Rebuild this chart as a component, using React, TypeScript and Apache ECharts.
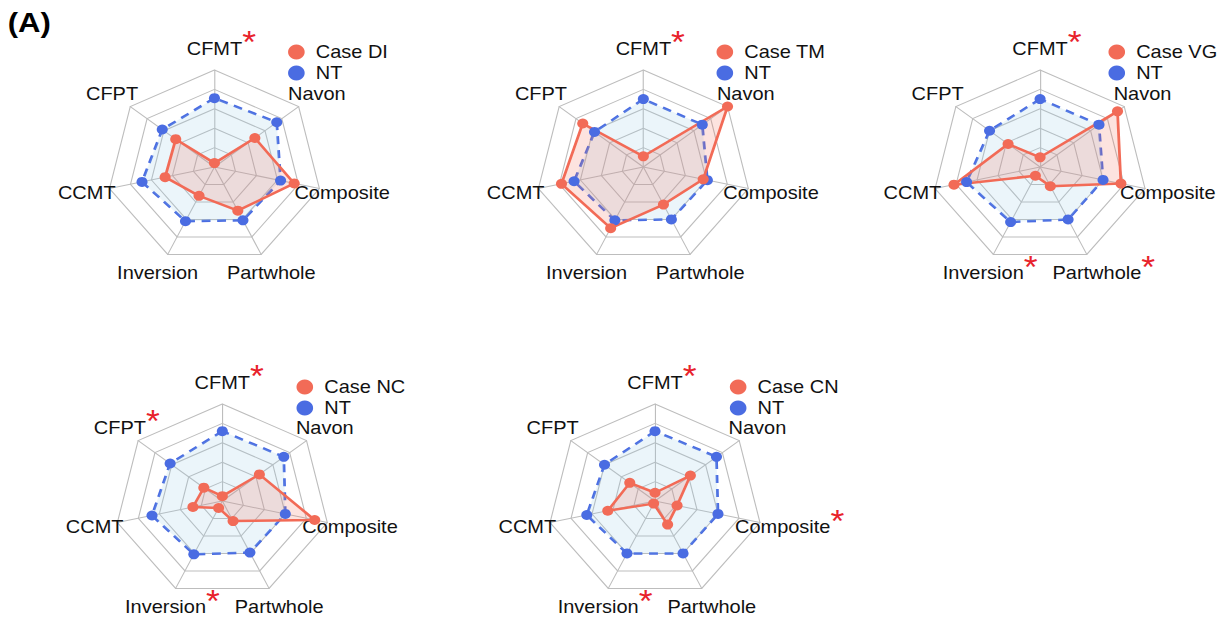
import { useEffect, useRef } from 'react';
import * as echarts from 'echarts';

// Axes in ECharts radar order (counter-clockwise from the top)
const axes = ['CFMT', 'CFPT', 'CCMT', 'Inversion', 'Partwhole', 'Composite', 'Navon'];

// Values as fraction of the outer ring (same axis order as above)
const caseDI = [0.04, 0.46, 0.47, 0.33, 0.5, 0.76, 0.48];
const ntDI = [0.71, 0.62, 0.69, 0.62, 0.61, 0.63, 0.74];
const caseTM = [0.11, 0.72, 0.78, 0.7, 0.43, 0.57, 1.0];
const ntTM = [0.7, 0.58, 0.66, 0.61, 0.6, 0.61, 0.7];
const caseVG = [0.1, 0.38, 0.82, 0.1, 0.22, 0.77, 0.92];
const ntVG = [0.7, 0.6, 0.7, 0.63, 0.6, 0.6, 0.7];
const caseNC = [0.05, 0.22, 0.28, 0.08, 0.23, 0.88, 0.44];
const ntNC = [0.72, 0.62, 0.67, 0.61, 0.59, 0.6, 0.73];
const caseCN = [0.085, 0.3, 0.45, 0.03, 0.27, 0.21, 0.42];
const ntCN = [0.72, 0.6, 0.65, 0.6, 0.6, 0.6, 0.73];

// Axes marked with a significance asterisk
const starsDI = ['CFMT'];
const starsTM = ['CFMT'];
const starsVG = ['CFMT', 'Inversion', 'Partwhole'];
const starsNC = ['CFMT', 'CFPT', 'Inversion'];
const starsCN = ['CFMT', 'Inversion', 'Composite'];

const caseNames = ['Case DI', 'Case TM', 'Case VG', 'Case NC', 'Case CN'];
const ntName = 'NT';

const RED = '#F26B57';
const BLUE = '#4A6CE2';
const FONT = '"Liberation Sans", Arial, Helvetica, sans-serif';

const S = 1.11; // horizontal stretch of the whole figure
const W = 1228 / S;
const H = 617;
const R = 97;

const panels = [
  { name: caseNames[0], cv: caseDI, nv: ntDI, stars: starsDI, center: [193.2, 167], legend: [254.5, 38] },
  { name: caseNames[1], cv: caseTM, nv: ntTM, stars: starsTM, center: [579.6, 167], legend: [640.5, 38] },
  { name: caseNames[2], cv: caseVG, nv: ntVG, stars: starsVG, center: [937, 167], legend: [993.6, 38] },
  { name: caseNames[3], cv: caseNC, nv: ntNC, stars: starsNC, center: [200.3, 501], legend: [262.1, 373] },
  { name: caseNames[4], cv: caseCN, nv: ntCN, stars: starsCN, center: [590.1, 501], legend: [652.5, 373] },
];

export default function App() {
  const ref = useRef<HTMLDivElement>(null);

  useEffect(() => {
    if (!ref.current) return;
    const chart = echarts.init(ref.current, undefined, { renderer: 'svg' });

    const radar = panels.map((p) => ({
      center: p.center,
      radius: R,
      startAngle: 90,
      splitNumber: 5,
      shape: 'polygon',
      indicator: axes.map((a) => ({ name: a, min: 0, max: 1 })),
      axisNameGap: 21,
      nameGap: 21,
      axisName: {
        color: '#111',
        fontSize: 18,
        fontFamily: FONT,
        align: 'center',
        verticalAlign: 'middle',
        formatter: (name: string) =>
          p.stars.indexOf(name) >= 0 ? `{h|*}{n|${name}}{s|*}` : `{n|${name}}`,
        rich: {
          n: { fontSize: 18, color: '#111', fontFamily: FONT },
          s: { fontSize: 32, color: '#E8222B', fontFamily: FONT, padding: [0, 0, 14, 0] },
          h: { fontSize: 32, color: 'rgba(0,0,0,0)', fontFamily: FONT, padding: [0, 0, 14, 0] },
        },
      },
      splitLine: { lineStyle: { color: '#BDBDBD', width: 1 } },
      splitArea: { show: false },
      axisLine: { lineStyle: { color: '#BDBDBD', width: 1 } },
    }));

    const series = panels.map((p, i) => ({
      type: 'radar',
      radarIndex: i,
      symbol: 'circle',
      symbolSize: 10,
      data: [
        {
          name: ntName,
          value: p.nv,
          itemStyle: { color: BLUE },
          lineStyle: { color: BLUE, width: 2.5, type: [8, 6] },
          areaStyle: { color: 'rgba(150,200,230,0.27)' },
        },
        {
          name: p.name,
          value: p.cv,
          itemStyle: { color: RED },
          lineStyle: { color: RED, width: 2.5 },
          areaStyle: { color: 'rgba(242,107,87,0.27)' },
        },
      ],
    }));

    const legend = panels.map((p) => ({
      data: [p.name, ntName],
      orient: 'vertical',
      left: p.legend[0],
      top: p.legend[1],
      icon: 'circle',
      itemWidth: 15,
      itemHeight: 16,
      itemGap: 3,
      selectedMode: false,
      textStyle: { fontSize: 18, color: '#111', fontFamily: FONT, padding: [0, 0, 0, 5] },
    }));

    chart.setOption({
      animation: false,
      backgroundColor: '#fff',
      radar,
      series,
      legend,
      graphic: [
        {
          type: 'text',
          left: 7,
          top: 8,
          style: { text: '(A)', font: `bold 28px ${FONT}`, fill: '#000' },
        },
      ],
    });

    return () => chart.dispose();
  }, []);

  return (
    <div
      style={{
        position: 'absolute',
        left: 0,
        top: 0,
        width: 1228,
        height: H,
        overflow: 'hidden',
        background: '#fff',
      }}
    >
      <div
        ref={ref}
        style={{
          width: W,
          height: H,
          transform: `scaleX(${S})`,
          transformOrigin: '0 0',
        }}
      />
    </div>
  );
}
